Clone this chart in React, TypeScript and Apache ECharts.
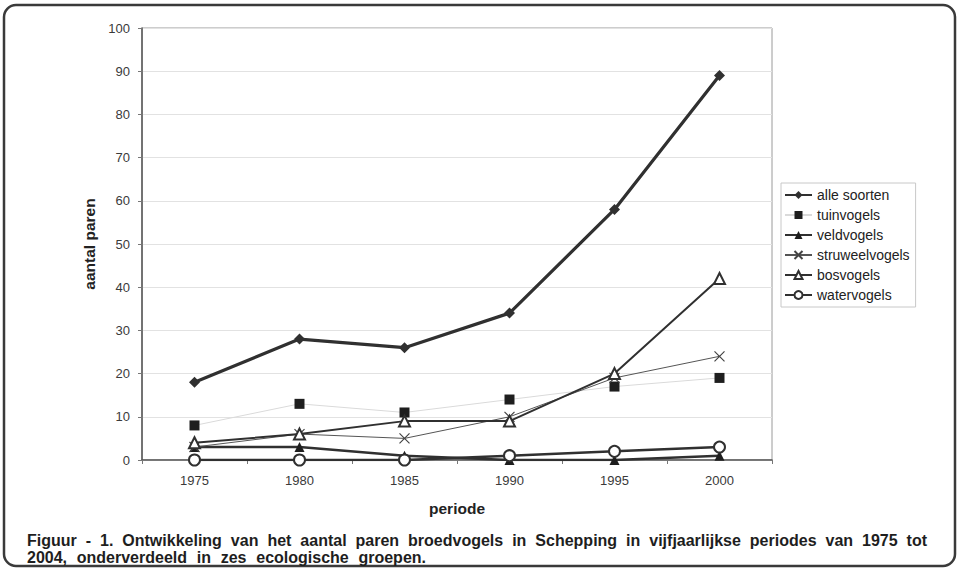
import React, { useEffect, useRef } from "react";
import * as echarts from "echarts";

const categories = ["1975", "1980", "1985", "1990", "1995", "2000"];
const alleSoorten = [18, 28, 26, 34, 58, 89];
const tuinvogels = [8, 13, 11, 14, 17, 19];
const veldvogels = [3, 3, 1, 0, 0, 1];
const struweelvogels = [3, 6, 5, 10, 19, 24];
const bosvogels = [4, 6, 9, 9, 20, 42];
const watervogels = [0, 0, 0, 1, 2, 3];
const seriesNames = ["alle soorten", "tuinvogels", "veldvogels", "struweelvogels", "bosvogels", "watervogels"];
const captionLine1 =
  "Figuur - 1. Ontwikkeling van het aantal paren broedvogels in Schepping in vijfjaarlijkse periodes van 1975 tot";
const captionLine2 = "2004, onderverdeeld in zes ecologische groepen.";
const yAxisTitle = "aantal paren";
const xAxisTitle = "periode";

const FONT = '"Liberation Sans", Arial, Helvetica, sans-serif';
const DARK = "#303030";

function measure(text: string, font: string): number {
  const ctx = document.createElement("canvas").getContext("2d");
  if (!ctx) return text.length * 8;
  ctx.font = font;
  return ctx.measureText(text).width;
}

function justifiedWords(line: string, x0: number, x1: number, y: number, fontSize: number) {
  const font = `bold ${fontSize}px ${FONT}`;
  const words = line.split(" ");
  const widths = words.map((w) => measure(w, font));
  const sum = widths.reduce((a, b) => a + b, 0);
  const gap = words.length > 1 ? (x1 - x0 - sum) / (words.length - 1) : 0;
  let x = x0;
  return words.map((w, i) => {
    const el = {
      type: "text",
      x,
      y,
      style: {
        text: w,
        fontFamily: FONT,
        fontWeight: "bold",
        fontSize,
        fill: "#1e1e1e",
        textVerticalAlign: "middle",
        verticalAlign: "middle",
      },
    };
    x += widths[i] + gap;
    return el;
  });
}

export default function App() {
  const ref = useRef<HTMLDivElement>(null);

  useEffect(() => {
    document.body.style.margin = "0";
    if (!ref.current) return;
    const chart = echarts.init(ref.current, null, { renderer: "svg" });

    const xPath = "path://M0,0L10,10M10,0L0,10";

    const option: any = {
      animation: false,
      backgroundColor: "#ffffff",
      textStyle: { fontFamily: FONT },
      grid: {
        left: 142,
        top: 28,
        right: 187,
        bottom: 109,
        show: true,
        borderColor: "#9a9a9a",
        borderWidth: 1,
        backgroundColor: "transparent",
      },
      legend: {
        orient: "vertical",
        left: 781,
        top: 183,
        itemWidth: 27,
        itemHeight: 10,
        itemGap: 6,
        padding: [5, 6, 5, 3],
        borderColor: "#c8c8c8",
        borderWidth: 1,
        textStyle: { fontSize: 14, color: "#222", fontFamily: FONT },
        data: seriesNames,
      },
      xAxis: {
        type: "category",
        data: categories,
        boundaryGap: true,
        name: xAxisTitle,
        nameLocation: "middle",
        nameGap: 40,
        nameTextStyle: { fontSize: 15.5, fontWeight: "bold", color: "#222", fontFamily: FONT },
        axisLine: { show: true, lineStyle: { color: "#555", width: 1.5 } },
        axisTick: { show: true, length: 4, lineStyle: { color: "#777" } },
        axisLabel: { fontSize: 13, color: "#3a3a3a", margin: 14, fontFamily: FONT },
      },
      yAxis: {
        type: "value",
        min: 0,
        max: 100,
        interval: 10,
        name: yAxisTitle,
        nameLocation: "middle",
        nameGap: 43,
        nameRotate: 90,
        nameTextStyle: { fontSize: 15.5, fontWeight: "bold", color: "#222", fontFamily: FONT },
        axisLine: { show: true, lineStyle: { color: "#555", width: 1.5 } },
        axisTick: { show: true, length: 4, lineStyle: { color: "#777" } },
        axisLabel: { fontSize: 13, color: "#3a3a3a", margin: 12, fontFamily: FONT },
        splitLine: { show: true, lineStyle: { color: "#e2e2e2", width: 1 } },
      },
      series: [
        {
          name: "alle soorten",
          type: "line",
          data: alleSoorten,
          symbol: "diamond",
          symbolSize: 11,
          lineStyle: { color: DARK, width: 3.2 },
          itemStyle: { color: DARK },
          z: 6,
        },
        {
          name: "tuinvogels",
          type: "line",
          data: tuinvogels,
          symbol: "rect",
          symbolSize: 10,
          lineStyle: { color: "#dadada", width: 1 },
          itemStyle: { color: "#1e1e1e" },
          z: 2,
        },
        {
          name: "veldvogels",
          type: "line",
          data: veldvogels,
          symbol: "triangle",
          symbolSize: 10,
          lineStyle: { color: DARK, width: 2.5 },
          itemStyle: { color: "#1e1e1e" },
          z: 3,
        },
        {
          name: "struweelvogels",
          type: "line",
          data: struweelvogels,
          symbol: xPath,
          symbolSize: 10,
          lineStyle: { color: "#555", width: 1 },
          itemStyle: { color: "#ffffff", borderColor: "#444", borderWidth: 1.2 },
          z: 4,
        },
        {
          name: "bosvogels",
          type: "line",
          data: bosvogels,
          symbol: "emptyTriangle",
          symbolSize: 11,
          lineStyle: { color: DARK, width: 2 },
          itemStyle: { color: DARK, borderWidth: 1.2 },
          z: 5,
        },
        {
          name: "watervogels",
          type: "line",
          data: watervogels,
          symbol: "emptyCircle",
          symbolSize: 11,
          lineStyle: { color: DARK, width: 2.5 },
          itemStyle: { color: DARK, borderWidth: 1.2 },
          z: 4,
        },
      ],
      graphic: [
        {
          type: "rect",
          shape: { x: 4, y: 5, width: 951, height: 561, r: 12 },
          style: { fill: "none", stroke: "#3a3a3a", lineWidth: 2.5 },
          silent: true,
        },
        ...justifiedWords(captionLine1, 27, 927, 540, 16),
        ...justifiedWords(captionLine2, 27, 426, 557, 16),
      ],
    };

    chart.setOption(option);
    return () => chart.dispose();
  }, []);

  return <div ref={ref} style={{ width: 959, height: 569 }} />;
}
